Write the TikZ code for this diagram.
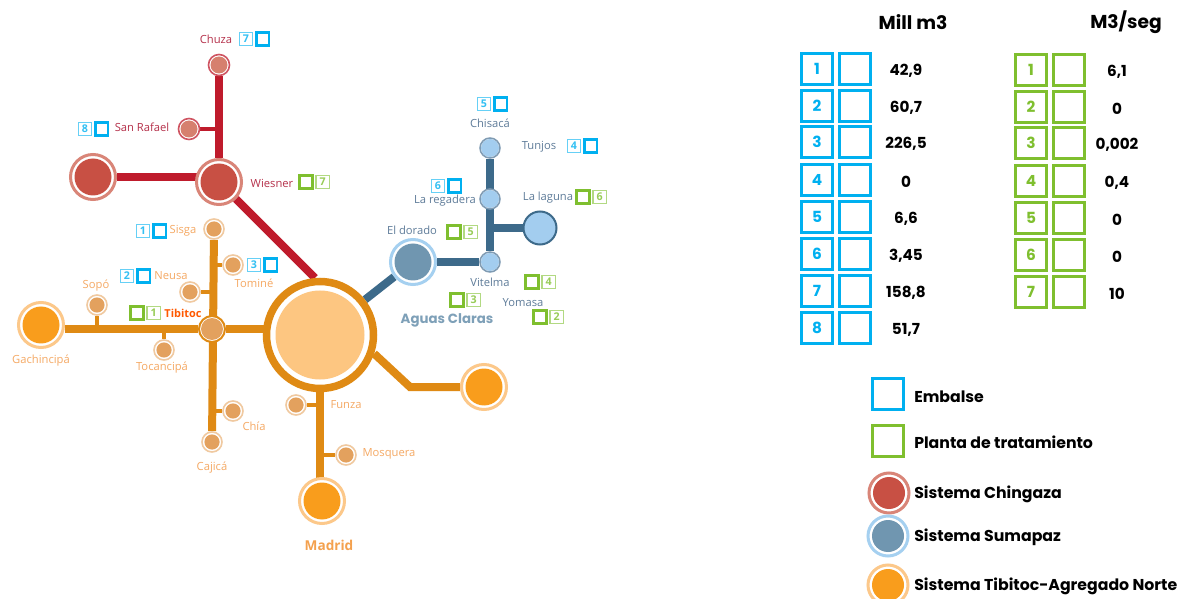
\documentclass[tikz,border=0pt]{standalone}
\usepackage{fontspec}
\setmainfont{Open Sans}
\newfontfamily\legendfont{Poppins}
\usepackage{xcolor}
\usetikzlibrary{positioning}
\definecolor{pipered}{HTML}{BF1B2C}
\definecolor{pipeblue}{HTML}{3D6A8A}
\definecolor{pipeorange}{HTML}{DF8A14}
\definecolor{ringred}{HTML}{D98578}
\definecolor{fillred}{HTML}{C85044}
\definecolor{softred}{HTML}{D6806E}
\definecolor{ringblue}{HTML}{A5D0F0}
\definecolor{fillblue}{HTML}{7096B0}
\definecolor{softblue}{HTML}{A3CDEF}
\definecolor{greyblue}{HTML}{7F9BB3}
\definecolor{ringorange}{HTML}{FCC88A}
\definecolor{fillorange}{HTML}{F99D1C}
\definecolor{softorange}{HTML}{E3A15E}
\definecolor{paleorange}{HTML}{F0C9A0}
\definecolor{coreorange}{HTML}{FDC681}
\definecolor{embalse}{HTML}{00B0F0}
\definecolor{planta}{HTML}{7FBF2F}
\definecolor{txtred}{HTML}{B5304A}
\definecolor{txtorange}{HTML}{F5A964}
\definecolor{txtmadrid}{HTML}{F4A14E}
\definecolor{txtblue}{HTML}{5F7C99}
\pgfdeclarelayer{paper}
\pgfdeclarelayer{pipes}
\pgfsetlayers{paper,pipes,main}
\tikzset{
  stn/.style n args={5}{circle, inner sep=0pt, minimum size=#1*0.75pt, draw=#2, fill=white,
    line width=#3*0.75pt, path picture={\fill[#5] (path picture bounding box.center) circle (#4);}},
  bigred/.style={stn={45}{ringred}{3}{18.5}{fillred}},
  smallred/.style={stn={21}{pipered!75!white}{1.6}{8.5}{softred}},
  bigblue/.style={stn={45}{ringblue}{3}{18.5}{fillblue}},
  smallblue/.style={stn={20}{greyblue}{1.5}{9}{softblue}},
  lagunablue/.style={stn={33}{pipeblue}{2}{16}{softblue}},
  bigorange/.style={stn={45}{ringorange}{3}{18.5}{fillorange}},
  smallorange/.style={stn={20}{paleorange}{1.6}{7.6}{softorange}},
  hub/.style={stn={26}{pipeorange}{2}{11}{softorange}},
  core/.style={stn={107}{pipeorange}{7.5}{44.5}{coreorange}},
  trunk/.style={line width=6pt},
  branch/.style={line width=3.2pt},
  maplab/.style={font=\fontsize{8.4}{10}\selectfont, inner sep=0pt},
  redlab/.style={maplab, text=txtred},
  orangelab/.style={maplab, text=txtorange},
  bluelab/.style={maplab, text=txtblue},
  numtag/.style={draw=#1!60, fill=white, line width=1pt, minimum size=10pt, inner sep=0pt, text=#1!80,
    font=\fontsize{8}{9}\selectfont\bfseries},
  emptytag/.style={draw=#1, fill=white, line width=1.8pt, minimum size=9.5pt, inner sep=0pt},
  tablebox/.style={draw=#1, line width=2.2pt, minimum size=23pt, inner sep=0pt, text=#1,
    font=\legendfont\bfseries\fontsize{11.5}{13}\selectfont},
  tabletxt/.style={font=\legendfont\bfseries\fontsize{11.4}{13}\selectfont, inner sep=0pt, yshift=-1.5pt},
  headtxt/.style={font=\legendfont\bfseries\fontsize{14}{16}\selectfont, inner sep=0pt},
  legendtxt/.style={font=\legendfont\bfseries\fontsize{11.8}{14}\selectfont, inner sep=0pt, anchor=west, yshift=-1pt},
}
\begin{document}
\begin{tikzpicture}[x=0.75pt,y=-0.75pt]
  \begin{pgfonlayer}{paper}
    \fill[white] (0,0) rectangle (1183,599);
  \end{pgfonlayer}
  \path[use as bounding box] (0,0) rectangle (1183,599);

  % Chingaza
  \node[smallred] (chuza) at (219,65) {};
  \node[smallred] (sanrafael) at (189,129) {};
  \node[bigred] (wiesner) at (219,182) {};
  \node[bigred] (chingaza) at (93,177) {};
  % Sumapaz
  \node[smallblue] (chisaca) at (490,148) {};
  \node[smallblue] (regadera) at (490,199) {};
  \node[smallblue] (vitelma) at (490,262) {};
  \node[lagunablue] (laguna) at (540,228) {};
  \node[bigblue] (dorado) at (413,262) {};
  % Tibitoc
  \node[core] (central) at (320,335) {};
  \node[hub] (tibitoc) at (212,329) {};
  \node[bigorange] (gachincipa) at (41,325) {};
  \node[bigorange] (madrid) at (322,501) {};
  \node[bigorange] (oriente) at (484,387) {};
  \node[smallorange] (sisga) at (214,229) {};
  \node[smallorange] (tomine) at (233,265) {};
  \node[smallorange] (neusa) at (190,292) {};
  \node[smallorange] (sopo) at (97,305) {};
  \node[smallorange] (tocancipa) at (164,350) {};
  \node[smallorange] (chia) at (233,411) {};
  \node[smallorange] (cajica) at (212,442) {};
  \node[smallorange] (funza) at (296,405) {};
  \node[smallorange] (mosquera) at (346,455) {};
  \coordinate (codo) at (410,387);

  \begin{pgfonlayer}{pipes}
    \draw[pipered, trunk] (chuza) -- (wiesner);
    \draw[pipered, trunk] (chingaza) -- (chingaza -| wiesner);
    \draw[pipered, trunk] (wiesner) -- (central.95);
    \draw[pipered, branch] (sanrafael) -- (sanrafael -| chuza);
    \draw[pipeblue, trunk] (chisaca) -- (vitelma);
    \draw[pipeblue, trunk] (dorado) -- (vitelma);
    \draw[pipeblue, trunk] (dorado) -- (central);
    \draw[pipeblue, trunk] (laguna) -- (laguna -| vitelma);
    \draw[pipeorange, trunk] (gachincipa.east |- tibitoc) -- (tibitoc) -- (tibitoc -| central);
    \draw[pipeorange, trunk] (sisga) -- (cajica);
    \draw[pipeorange, trunk] (central) -- (central |- madrid);
    \draw[pipeorange, trunk, line join=miter] (central.-19) -- (codo) -- (oriente);
    \draw[pipeorange, branch] (tomine) -- (tomine -| sisga);
    \draw[pipeorange, branch] (neusa) -- (neusa -| sisga);
    \draw[pipeorange, branch] (chia) -- (chia -| cajica);
    \draw[pipeorange, branch] (sopo) -- (sopo |- tibitoc);
    \draw[pipeorange, branch] (tocancipa) -- (tocancipa |- tibitoc);
    \draw[pipeorange, branch] (funza) -- (funza -| madrid);
    \draw[pipeorange, branch] (mosquera) -- (mosquera -| madrid);
  \end{pgfonlayer}

  % map labels
  \node[redlab] (l1) at (216,39) {Chuza};
  \node[redlab] (l2) at (142,127) {San Rafael};
  \node[redlab] (l3) at (272,183) {Wiesner};
  \node[orangelab] (l4) at (183,231) {Sisga};
  \node[orangelab] (l5) at (171,276) {Neusa};
  \node[orangelab] (l6) at (254,283) {Tominé};
  \node[orangelab] (l7) at (96,286) {Sopó};
  \node[maplab, text=orange!70!red, font=\fontsize{8.2}{10}\selectfont\bfseries] (l8) at (183,313) {Tibitoc};
  \node[orangelab] (l9) at (41,361) {Gachincipá};
  \node[orangelab] (l10) at (162,368) {Tocancipá};
  \node[orangelab] (l11) at (346,405) {Funza};
  \node[orangelab] (l12) at (389,454) {Mosquera};
  \node[orangelab] (l13) at (254,426) {Chía};
  \node[orangelab] (l14) at (212,468) {Cajicá};
  \node[orangelab, text=txtmadrid, font=\fontsize{10.2}{12}\selectfont\bfseries] (l15) at (329,545) {Madrid};
  \node[bluelab] (l16) at (490,123) {Chisacá};
  \node[bluelab] (l17) at (539,147) {Tunjos};
  \node[bluelab] (l18) at (445,201) {La regadera};
  \node[bluelab] (l19) at (548,198) {La laguna};
  \node[bluelab] (l20) at (412,230) {El dorado};
  \node[bluelab] (l21) at (490,282) {Vitelma};
  \node[bluelab] (l22) at (523,303) {Yomasa};
  \node[maplab, text=fillblue!90!white, font=\legendfont\bfseries\fontsize{10}{12}\selectfont] (l23) at (447,320) {Aguas Claras};

  % small tags on the map
  \foreach \n/\x/\y in {7/246/39,8/85/129,1/143/231,2/127/276,3/254/265,5/484/104,4/574/146,6/438/186}{
    \node[numtag=embalse] (te\x) at (\x,\y) {\n};
    \node[emptytag=embalse, right=1.4pt of te\x] (tv\x) {};
  }
  \foreach \n/\x/\y in {7/306/182,6/583/197,5/454/232,4/532/282,3/457/300,2/540/317,1/137/313}{
    \node[emptytag=planta] (pv\x) at (\x,\y) {};
    \node[numtag=planta, right=1.4pt of pv\x] (pe\x) {\n};
  }

  % tables
  \node[headtxt] (millhead) at (913,22) {Mill m3};
  \node[headtxt] (seghead) at (1126,22) {M3/seg};
  \foreach \n/\y/\val in {{1/69/42,9},{2/106/60,7},{3/142/226,5},{4/180/0},{5/217/6,6},{6/254/3,45},{7/291/158,8},{8/328/51,7}}{
    \node[tablebox=embalse] (mn\n) at (817,\y) {\n};
    \node[tablebox=embalse] (mv\n) at (855,\y) {};
    \node[tabletxt] (mt\n) at (906,\y) {\val};
  }
  \foreach \n/\y/\val in {{1/70/6,1},{2/107/0},{3/143/0,002},{4/181/0,4},{5/218/0},{6/255/0},{7/292/10}}{
    \node[tablebox=planta] (sn\n) at (1031,\y) {\n};
    \node[tablebox=planta] (sv\n) at (1069,\y) {};
    \node[tabletxt] (st\n) at (1117,\y) {\val};
  }

  % legend
  \node[tablebox=embalse] (embkey) at (888,394) {};
  \node[tablebox=planta] (plakey) at (888,441) {};
  \node[stn={40}{ringred}{3}{16}{fillred}] (chikey) at (889,493) {};
  \node[stn={40}{ringblue}{3}{16}{fillblue}] (sumkey) at (888,536) {};
  \node[stn={40}{ringorange}{3}{16}{fillorange}] (tibkey) at (888,585) {};
  \node[legendtxt] (embtxt) at (914,395) {Embalse};
  \node[legendtxt] (platxt) at (914,441) {Planta de tratamiento};
  \node[legendtxt] (chitxt) at (914,493) {Sistema Chingaza};
  \node[legendtxt] (sumtxt) at (914,536) {Sistema Sumapaz};
  \node[legendtxt] (tibtxt) at (914,585) {Sistema Tibitoc-Agregado Norte};
\end{tikzpicture}
\end{document}
